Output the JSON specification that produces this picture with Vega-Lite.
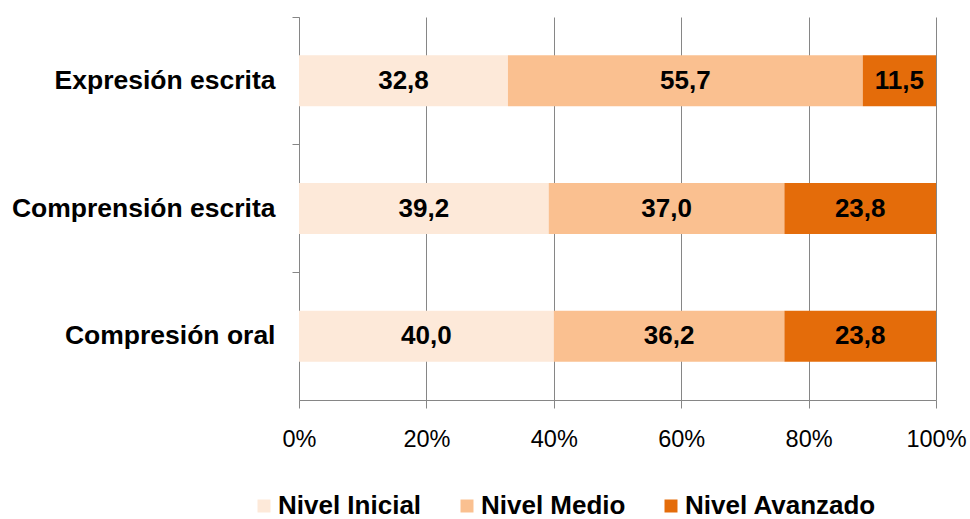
{
  "$schema": "https://vega.github.io/schema/vega-lite/v6.json",
  "width": 637,
  "height": 383,
  "autosize": "none",
  "padding": {"left": 299, "top": 17, "right": 34, "bottom": 119},
  "background": "white",
  "config": {
    "view": {"stroke": null},
    "font": "Liberation Sans",
    "locale": {"number": {"decimal": ",", "thousands": ".", "grouping": [3], "currency": ["", " €"]}}
  },
  "data": {
    "values": [
      {"cat": "Expresión escrita", "nivel": "Nivel Inicial", "k": 1, "v": 32.8},
      {"cat": "Expresión escrita", "nivel": "Nivel Medio", "k": 2, "v": 55.7},
      {"cat": "Expresión escrita", "nivel": "Nivel Avanzado", "k": 3, "v": 11.5},
      {"cat": "Comprensión escrita", "nivel": "Nivel Inicial", "k": 1, "v": 39.2},
      {"cat": "Comprensión escrita", "nivel": "Nivel Medio", "k": 2, "v": 37.0},
      {"cat": "Comprensión escrita", "nivel": "Nivel Avanzado", "k": 3, "v": 23.8},
      {"cat": "Compresión oral", "nivel": "Nivel Inicial", "k": 1, "v": 40.0},
      {"cat": "Compresión oral", "nivel": "Nivel Medio", "k": 2, "v": 36.2},
      {"cat": "Compresión oral", "nivel": "Nivel Avanzado", "k": 3, "v": 23.8}
    ]
  },
  "transform": [
    {"stack": "v", "groupby": ["cat"], "sort": [{"field": "k", "order": "ascending"}], "offset": "normalize", "as": ["a", "b"]}
  ],
  "encoding": {
    "y": {
      "field": "cat",
      "type": "nominal",
      "sort": ["Expresión escrita", "Comprensión escrita", "Compresión oral"],
      "scale": {"paddingInner": 0.6, "paddingOuter": 0.3},
      "axis": {
        "title": null,
        "labelFont": "Liberation Sans",
        "labelFontSize": 26.5,
        "labelFontWeight": "bold",
        "labelColor": "#000000",
        "labelPadding": 17,
        "labelLimit": 400,
        "tickSize": 7,
        "tickColor": "#868686",
        "domainColor": "#868686",
        "bandPosition": -0.75
      }
    }
  },
  "layer": [
    {
      "mark": {"type": "bar"},
      "encoding": {
        "x": {
          "field": "a",
          "type": "quantitative",
          "scale": {"domain": [0, 1], "nice": false},
          "axis": {
            "title": null,
            "format": "0%",
            "values": [0, 0.2, 0.4, 0.6, 0.8, 1],
            "grid": true,
            "gridColor": "#868686",
            "gridWidth": 1,
            "tickSize": 8,
            "tickColor": "#868686",
            "domainColor": "#868686",
            "labelFont": "Liberation Sans",
            "labelFontSize": 23.5,
            "labelColor": "#000000",
            "labelPadding": 19,
            "labelFlush": false,
            "labelOverlap": false
          }
        },
        "x2": {"field": "b"},
        "color": {
          "field": "nivel",
          "type": "nominal",
          "scale": {
            "domain": ["Nivel Inicial", "Nivel Medio", "Nivel Avanzado"],
            "range": ["#FDE9D9", "#FAC090", "#E46C0A"]
          },
          "legend": {
            "title": null,
            "orient": "none",
            "direction": "horizontal",
            "legendX": -48,
            "legendY": 476,
            "symbolType": "square",
            "symbolSize": 169,
            "symbolStrokeWidth": 0,
            "labelFont": "Liberation Sans",
            "labelFontSize": 26,
            "labelFontWeight": "bold",
            "labelColor": "#000000",
            "labelLimit": 400,
            "columnPadding": 32,
            "labelOffset": 1
          }
        }
      }
    },
    {
      "transform": [
        {"fold": ["a", "b"], "as": ["edge", "pos"]},
        {"aggregate": [{"op": "mean", "field": "pos", "as": "mid"}], "groupby": ["cat", "nivel", "v"]}
      ],
      "mark": {"type": "text", "font": "Liberation Sans", "fontSize": 26, "fontWeight": "bold", "color": "#000000", "baseline": "middle", "align": "center"},
      "encoding": {
        "x": {"field": "mid", "type": "quantitative"},
        "text": {"field": "v", "type": "quantitative", "format": ".1f"}
      }
    }
  ]
}
